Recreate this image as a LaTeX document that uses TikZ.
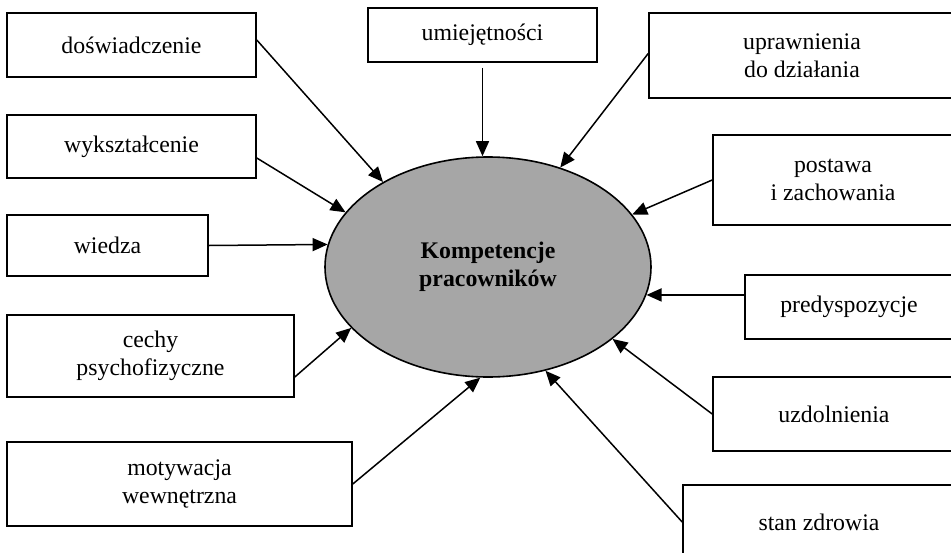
\documentclass[tikz,border=0pt]{standalone}
\usepackage{fontspec}
\setmainfont{Liberation Serif}
\usetikzlibrary{arrows.meta,shapes.geometric}
\begin{document}
\begin{tikzpicture}[x=1pt,y=-1pt,
  box/.style={draw,line width=1.6pt,inner sep=0pt,align=center,font=\fontsize{23.8}{28}\selectfont},
  arr/.style={line width=1.5pt,-{Triangle[length=15pt,width=13pt]}},
  ln/.style={line width=1.5pt}]
\clip (0,0) rectangle (951,552);
\fill[white] (0,0) rectangle (951,552);
\node[ellipse,draw,line width=1.6pt,fill=black!35,minimum width=326pt,minimum height=220pt,inner sep=0pt,align=center,font=\fontsize{23.8}{28}\selectfont\bfseries] (ell) at (488,267) {Kompetencje\\pracowników};
\node[box,minimum width=249pt,minimum height=64pt] (dos) at (131.5,45) {doświadczenie};
\node[box,minimum width=249pt,minimum height=63pt] (wyk) at (131.5,146.5) {wykształcenie};
\node[box,minimum width=201pt,minimum height=61pt] (wie) at (107.5,245.5) {wiedza};
\node[box,minimum width=287pt,minimum height=82pt] (cec) at (150.5,356) {cechy\\psychofizyczne};
\node[box,minimum width=345pt,minimum height=84pt] (mot) at (179.5,484) {motywacja\\wewnętrzna};
\node[box,minimum width=229pt,minimum height=54pt] (ume) at (482.5,35) {umiejętności};
\node[box,minimum width=306pt,minimum height=85pt] (upr) at (802,55.5) {uprawnienia\\do działania};
\node[box,minimum width=240pt,minimum height=90pt] (pos) at (833,180) {postawa\\i zachowania};
\node[box,minimum width=208pt,minimum height=64pt] (pre) at (849,307) {predyspozycje};
\node[box,minimum width=242pt,minimum height=74pt] (uzd) at (834,414) {uzdolnienia};
\node[box,minimum width=272pt,minimum height=74pt] (sta) at (819,522) {stan zdrowia};
\draw[arr] ([yshift=5pt]dos.east) -- (ell.141);
\draw[arr] ([yshift=-11.5pt]wyk.east) -- (ell.159.6);
\draw[arr] (wie.east) -- (ell.172);
\draw[arr] ([yshift=-21pt]cec.east) -- (ell.204.5);
\draw[arr] (mot.east) -- (ell.266);
\draw[arr,shorten <=5pt] (ume.south) -- (ume.south |- ell.north);
\draw[arr] ([yshift=2pt]upr.west) -- (ell.54.8);
\draw[arr] (pos.west) -- (ell.20.5);
\draw[arr] (ell.-10.5 -| pre.west) -- (ell.-10.5);
\draw[arr] (uzd.west) -- (ell.-30.5);
\draw[arr] (sta.west) -- (ell.-61.4);
\end{tikzpicture}
\end{document}
